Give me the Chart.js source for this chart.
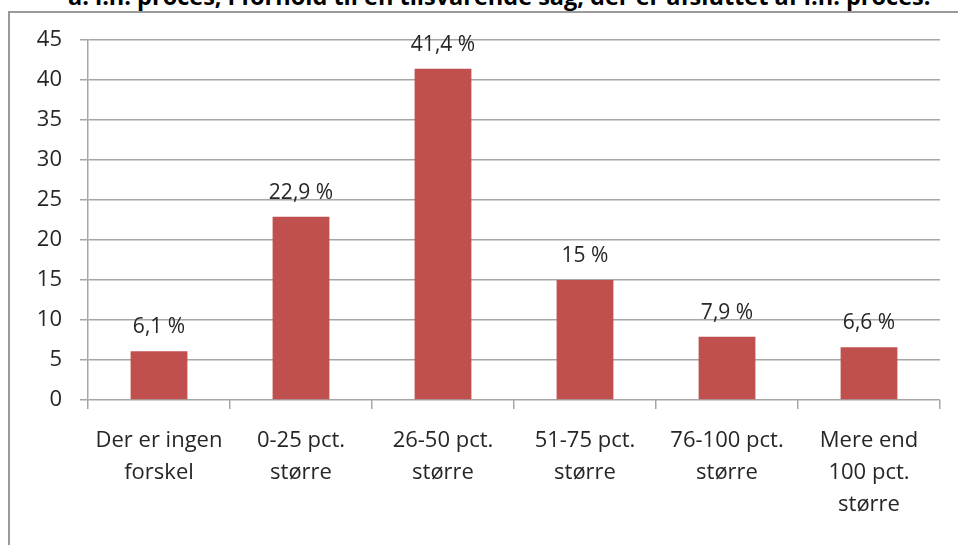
<!DOCTYPE html>
<html>
<head>
<meta charset="utf-8">
<script src="https://cdn.jsdelivr.net/npm/chart.js@4/dist/chart.umd.min.js"></script>
<style>
  html, body { margin: 0; padding: 0; background: #fff; overflow: hidden; }
  #wrap { position: relative; width: 958px; height: 545px; overflow: hidden; }
  #title { position: absolute; left: 68px; top: -20px; white-space: nowrap;
           font: bold 23.5px "Open Sans", sans-serif; color: #000; }
  #frame { position: absolute; left: 8px; top: 11px; width: 2000px; height: 2000px;
           border-left: 2px solid #9a9a9a; border-top: 2px solid #9a9a9a; }
  #box { position: absolute; left: 0; top: 0; width: 958px; height: 545px; }
</style>
</head>
<body>
<div id="wrap">
  <div id="title">a. i.n. proces, i forhold til en tilsvarende sag, der er afsluttet af i.n. proces.</div>
  <div id="frame"></div>
  <div id="box"><canvas id="c"></canvas></div>
</div>
<script>
// Data
const categories = [
  ['Der er ingen', 'forskel'],
  ['0-25 pct.', 'større'],
  ['26-50 pct.', 'større'],
  ['51-75 pct.', 'større'],
  ['76-100 pct.', 'større'],
  ['Mere end', '100 pct.', 'større'],
];
const values = [6.1, 22.9, 41.4, 15, 7.9, 6.6];
const valueLabels = ['6,1 %', '22,9 %', '41,4 %', '15 %', '7,9 %', '6,6 %'];

const GRID = '#a6a6a6';
const FONT = '"Open Sans", sans-serif';

// value labels above each bar
const barLabels = {
  id: 'barLabels',
  afterDatasetsDraw(chart) {
    const { ctx } = chart;
    const meta = chart.getDatasetMeta(0);
    ctx.save();
    ctx.font = `21px ${FONT}`;
    ctx.fillStyle = '#262626';
    ctx.textAlign = 'center';
    ctx.textBaseline = 'middle';
    meta.data.forEach((bar, i) => {
      ctx.fillText(valueLabels[i], bar.x, bar.y - 24);
    });
    ctx.restore();
  },
};

new Chart(document.getElementById('c'), {
  type: 'bar',
  data: {
    labels: categories,
    datasets: [{
      data: values,
      backgroundColor: '#c0504d',
      barPercentage: 0.4,
      categoryPercentage: 1,
    }],
  },
  options: {
    responsive: true,
    maintainAspectRatio: false,
    animation: false,
    layout: { padding: { top: 40, right: 18, left: 0, bottom: 0 } },
    plugins: { legend: { display: false }, tooltip: { enabled: false } },
    scales: {
      x: {
        afterFit(s) { s.height = 145; },
        grid: { drawOnChartArea: false, color: GRID, lineWidth: 1.5, tickLength: 9, offset: true },
        border: { display: false },
        ticks: { color: '#262626', font: { family: FONT, size: 22, lineHeight: 1.45 }, padding: 16, maxRotation: 0, autoSkip: false },
      },
      y: {
        min: 0,
        max: 45,
        afterFit(s) { s.width = 88; },
        grid: { color: GRID, lineWidth: 1.5, tickLength: 8 },
        border: { color: GRID, width: 1.5 },
        ticks: { stepSize: 5, color: '#262626', font: { family: FONT, size: 22 }, padding: 18 },
      },
    },
  },
  plugins: [barLabels],
});
</script>
</body>
</html>
